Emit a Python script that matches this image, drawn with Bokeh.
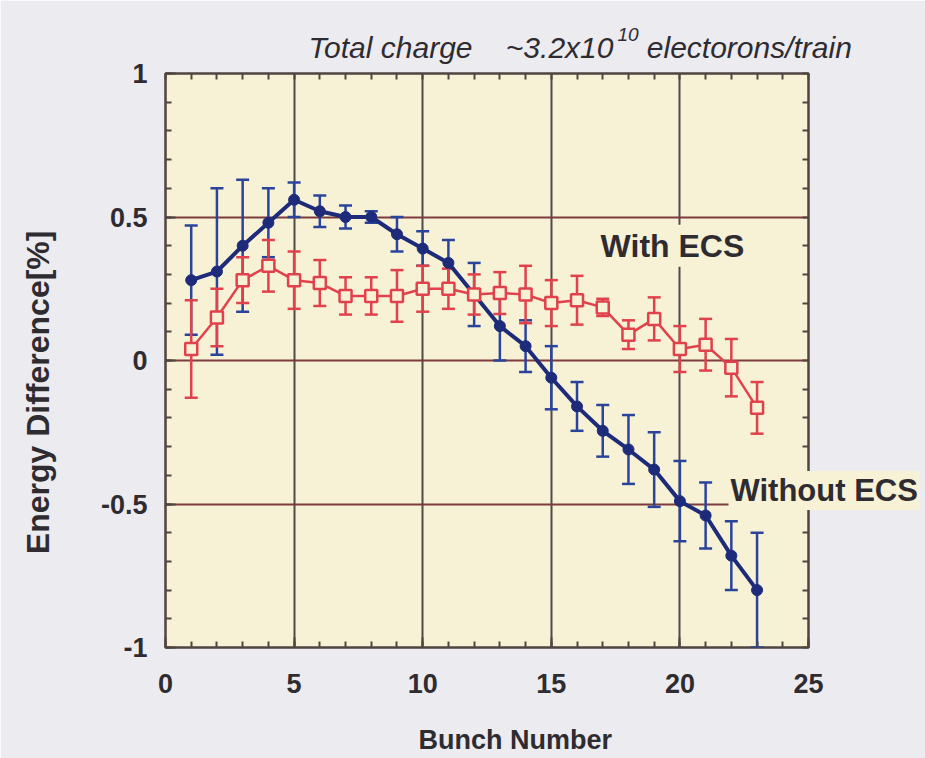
import numpy as np
from bokeh.plotting import figure
from bokeh.models import (Range1d, LinearAxis, FixedTicker, Whisker, TeeHead,
                          ColumnDataSource, Label)
from bokeh.embed import file_html
from bokeh.resources import INLINE

# Bunch-by-bunch energy difference along the train
bunch = list(range(1, 24))

without_ecs = [0.28, 0.31, 0.40, 0.48, 0.56, 0.52, 0.50, 0.50, 0.44, 0.39, 0.34, 0.23,
               0.12, 0.05, -0.06, -0.16, -0.245, -0.31, -0.38, -0.49, -0.54, -0.68, -0.80]
without_err = [0.19, 0.29, 0.23, 0.12, 0.06, 0.055, 0.04, 0.02, 0.06, 0.06, 0.08, 0.11,
               0.12, 0.09, 0.11, 0.085, 0.09, 0.12, 0.13, 0.14, 0.115, 0.12, 0.20]

with_ecs = [0.04, 0.15, 0.28, 0.33, 0.28, 0.27, 0.225, 0.225, 0.225, 0.25, 0.25, 0.23,
            0.235, 0.23, 0.20, 0.21, 0.185, 0.09, 0.145, 0.04, 0.055, -0.025, -0.165]
with_err = [0.17, 0.10, 0.08, 0.09, 0.10, 0.08, 0.065, 0.065, 0.09, 0.08, 0.07, 0.07,
            0.073, 0.10, 0.08, 0.085, 0.03, 0.05, 0.075, 0.08, 0.09, 0.10, 0.09]

x_ticks = [0, 5, 10, 15, 20, 25]
y_ticks = [-1, -0.5, 0, 0.5, 1]
y_tick_labels = ["-1", "-0.5", "0", "0.5", "1"]

NB = "\u00a0"
# the exponent is drawn as its own raised label inside the gap after "10"
title_text = f"Total charge{NB * 4}~3.2x10{NB * 4}electorons/train"
title_exp = "10"
x_title = "Bunch Number"
y_title = "Energy Difference[%]"

PAGE_BG = "#ecebf0"
PLOT_BG = "#f7f2d6"
TEXT = "#2f2c31"
BLUE = "#1d2b7a"
BLUE_ERR = "#2a449c"
RED = "#e0414b"
FRAME = "#4f4640"
FONT = "Liberation Sans"

p = figure(width=925, height=758, x_range=Range1d(0, 25), y_range=Range1d(-1, 1),
           output_backend="svg", toolbar_location=None,
           min_border_left=165, min_border_right=117,
           min_border_top=73, min_border_bottom=111)
p.background_fill_color = PLOT_BG
p.border_fill_color = PAGE_BG
p.outline_line_color = FRAME
p.outline_line_width = 2.5

x_minor = list(range(0, 26))
y_minor = [round(v, 1) for v in np.arange(-1, 1.01, 0.1)]
xt = FixedTicker(ticks=x_ticks, minor_ticks=x_minor)
yt = FixedTicker(ticks=y_ticks, minor_ticks=y_minor)

p.xaxis.ticker = xt
p.yaxis.ticker = yt
p.yaxis.major_label_overrides = {t: s for t, s in zip(y_ticks, y_tick_labels)}

# top and right edges: unlabeled inward tick marks only
p.add_layout(LinearAxis(ticker=FixedTicker(ticks=[], minor_ticks=x_minor)), "above")
p.add_layout(LinearAxis(ticker=FixedTicker(ticks=[], minor_ticks=y_minor)), "right")

for ax in p.axis:
    ax.axis_line_color = None
    ax.major_tick_in = 10
    ax.major_tick_out = 0
    ax.minor_tick_in = 6
    ax.minor_tick_out = 0
    ax.major_tick_line_color = FRAME
    ax.minor_tick_line_color = FRAME
    ax.major_tick_line_width = 2
    ax.minor_tick_line_width = 2
    ax.major_label_text_font = FONT
    ax.major_label_text_font_style = "bold"
    ax.major_label_text_font_size = "27px"
    ax.major_label_text_color = TEXT

for ax in (p.above[0], p.right[0]):
    ax.major_label_standoff = 0
p.below[0].major_label_standoff = 26
p.left[0].major_label_standoff = 18

p.xgrid.ticker = xt
p.ygrid.ticker = yt
p.xgrid.grid_line_color = "#4d4a48"
p.xgrid.grid_line_width = 2
p.ygrid.grid_line_color = "#7d3b3d"
p.ygrid.grid_line_width = 2

src_wo = ColumnDataSource(dict(x=bunch, y=without_ecs,
                               upper=[v + e for v, e in zip(without_ecs, without_err)],
                               lower=[v - e for v, e in zip(without_ecs, without_err)]))
src_w = ColumnDataSource(dict(x=bunch, y=with_ecs,
                              upper=[v + e for v, e in zip(with_ecs, with_err)],
                              lower=[v - e for v, e in zip(with_ecs, with_err)]))

# error bars
p.add_layout(Whisker(source=src_wo, base="x", upper="upper", lower="lower",
                     line_color=BLUE_ERR, line_width=2.5,
                     upper_head=TeeHead(size=13, line_color=BLUE_ERR, line_width=2.5),
                     lower_head=TeeHead(size=13, line_color=BLUE_ERR, line_width=2.5)))
p.add_layout(Whisker(source=src_w, base="x", upper="upper", lower="lower",
                     line_color=RED, line_width=2.5,
                     upper_head=TeeHead(size=13, line_color=RED, line_width=2.5),
                     lower_head=TeeHead(size=13, line_color=RED, line_width=2.5)))

# without ECS: filled dark-blue markers
p.line("x", "y", source=src_wo, line_color=BLUE, line_width=4)
p.scatter("x", "y", source=src_wo, marker="circle", size=11,
          fill_color=BLUE, line_color=BLUE)

# with ECS: open red squares
p.line("x", "y", source=src_w, line_color=RED, line_width=2.5)
p.scatter("x", "y", source=src_w, marker="square", size=12,
          fill_color=PLOT_BG, line_color=RED, line_width=2.5)

# in-frame annotation
p.add_layout(Label(x=16.8, y=0.40, text="With ECS", text_font=FONT,
                   text_font_style="bold", text_font_size="32px", text_color=TEXT,
                   text_baseline="middle", background_fill_color=PLOT_BG,
                   padding=3))

# texts that sit over or beyond the frame edge go into side panels
# (positioned in data units, so they are not cut at the frame)
p.add_layout(Label(x=5.56, y=1.0906, text=title_text, text_font=FONT,
                   text_font_style="italic", text_font_size="30px", text_color=TEXT,
                   text_baseline="alphabetic"), "above")
p.add_layout(Label(x=21.89, y=-0.453, text="Without ECS", text_font=FONT,
                   text_font_style="bold", text_font_size="31px", text_color=TEXT,
                   text_baseline="middle", background_fill_color=PLOT_BG,
                   padding=2), "above")
p.add_layout(Label(x=17.57, y=1.136, text=title_exp, text_font=FONT,
                   text_font_style="italic", text_font_size="19px", text_color=TEXT,
                   text_baseline="alphabetic"), "left")
p.add_layout(Label(x=13.6, y=-1.324, text=x_title, text_font=FONT,
                   text_font_style="bold", text_font_size="27px", text_color=TEXT,
                   text_align="center", text_baseline="middle"), "below")
p.add_layout(Label(x=-4.94, y=-0.111, text=y_title, text_font=FONT,
                   text_font_style="bold", text_font_size="32px", text_color=TEXT,
                   text_align="center", text_baseline="middle", angle=np.pi / 2), "left")

open("out.html", "w").write(file_html(p, INLINE))
